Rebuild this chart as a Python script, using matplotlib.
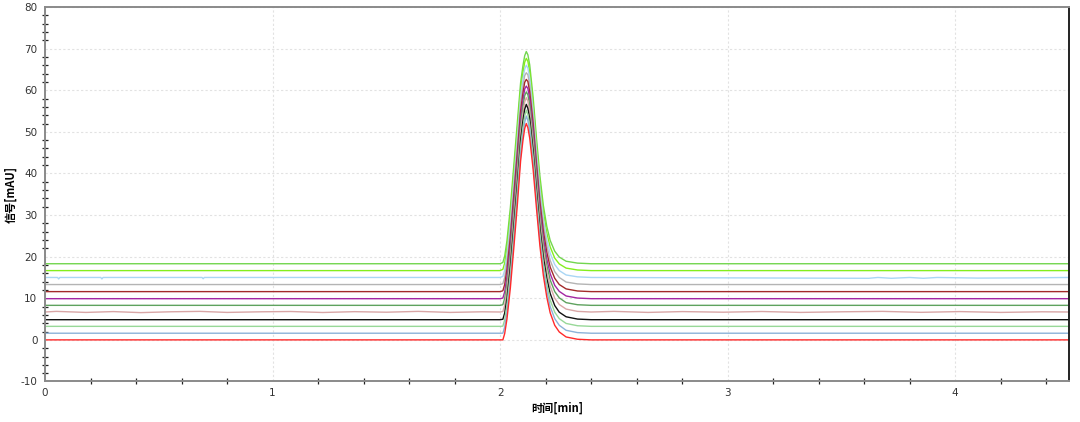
import matplotlib
matplotlib.use("Agg")
import matplotlib.pyplot as plt
from matplotlib.ticker import MultipleLocator, FixedLocator, FixedFormatter

plt.rcParams['font.family'] = ['DejaVu Sans']

# ---------------- data ----------------
t_start, t_end = 0.0, 4.5
time_peak = [2.000, 2.012, 2.020, 2.030, 2.045, 2.060, 2.075, 2.090, 2.100, 2.108,
             2.115, 2.122, 2.130, 2.145, 2.160, 2.175, 2.190, 2.205, 2.220, 2.240,
             2.260, 2.290, 2.340, 2.400]

baselines = [0.0, 1.6, 3.25, 4.85, 6.7, 8.3, 9.9, 11.6, 13.3, 15.0, 16.65, 18.3]
colors = ['#ff2a2a', '#8cb2d8', '#98d898', '#111111', '#d9a6a6', '#5fa25f',
          '#a326a3', '#a32a2a', '#b4b4b4', '#a9d6f5', '#84ee1c', '#72d64e']

# peak heights above each trace's own baseline, at time_peak
peak_red      = [0, 0.0, 1.5, 5.0, 12.5, 22.0, 32.0, 43.0, 47.8, 50.8, 52.0, 51.0, 48.5, 41.0, 31.5, 22.5, 15.5, 10.3, 6.5, 3.5, 1.9, 0.7, 0.15, 0]
peak_blue     = [0, 0.0, 1.5, 5.0, 12.6, 22.1, 32.1, 43.0, 47.8, 50.7, 52.2, 51.1, 48.6, 40.9, 31.4, 22.4, 15.4, 10.2, 6.4, 3.5, 1.9, 0.7, 0.15, 0]
peak_ltgreen  = [0, 0.05, 1.55, 5.1, 12.7, 22.3, 32.3, 43.1, 47.7, 50.6, 51.95, 50.9, 48.4, 40.8, 31.2, 22.2, 15.2, 10.1, 6.3, 3.4, 1.85, 0.7, 0.15, 0]
peak_black    = [0, 0.1, 1.6, 5.1, 12.8, 22.4, 32.4, 43.1, 47.7, 50.6, 51.75, 50.8, 48.3, 40.7, 31.1, 22.1, 15.1, 10.0, 6.3, 3.4, 1.8, 0.7, 0.15, 0]
peak_pink     = [0, 0.1, 1.6, 5.2, 12.9, 22.5, 32.5, 43.2, 47.7, 50.5, 51.5, 50.7, 48.2, 40.6, 31.0, 22.0, 15.0, 9.8, 6.2, 3.3, 1.8, 0.7, 0.15, 0]
peak_green    = [0, 0.15, 1.65, 5.2, 12.9, 22.7, 32.7, 43.2, 47.7, 50.4, 51.3, 50.6, 48.2, 40.5, 30.8, 21.8, 14.8, 9.7, 6.1, 3.3, 1.8, 0.65, 0.15, 0]
peak_purple   = [0, 0.15, 1.65, 5.3, 13.0, 22.8, 32.8, 43.3, 47.6, 50.4, 51.1, 50.5, 48.1, 40.5, 30.7, 21.7, 14.7, 9.6, 6.0, 3.2, 1.75, 0.65, 0.15, 0]
peak_darkred  = [0, 0.2, 1.7, 5.3, 13.1, 23.0, 33.0, 43.3, 47.6, 50.3, 51.0, 50.5, 48.0, 40.4, 30.5, 21.5, 14.5, 9.5, 5.9, 3.2, 1.7, 0.65, 0.15, 0]
peak_gray     = [0, 0.2, 1.7, 5.4, 13.2, 23.1, 33.1, 43.4, 47.6, 50.2, 50.9, 50.4, 48.0, 40.3, 30.4, 21.4, 14.4, 9.4, 5.8, 3.1, 1.7, 0.6, 0.15, 0]
peak_ltblue   = [0, 0.25, 1.75, 5.4, 13.3, 23.2, 33.2, 43.4, 47.6, 50.1, 51.0, 50.3, 47.9, 40.2, 30.3, 21.3, 14.3, 9.2, 5.8, 3.1, 1.65, 0.6, 0.15, 0]
peak_lime     = [0, 0.3, 1.8, 5.5, 13.4, 23.4, 33.4, 43.5, 47.5, 50.1, 51.0, 50.3, 47.8, 40.1, 30.1, 21.1, 14.1, 9.1, 5.7, 3.0, 1.6, 0.6, 0.15, 0]
peak_topgreen = [0, 0.3, 1.8, 5.5, 13.5, 23.5, 33.5, 43.5, 47.5, 50.0, 51.0, 50.2, 47.8, 40.0, 30.0, 21.0, 14.0, 9.0, 5.6, 3.0, 1.6, 0.6, 0.15, 0]

peaks = [peak_red, peak_blue, peak_ltgreen, peak_black, peak_pink, peak_green,
         peak_purple, peak_darkred, peak_gray, peak_ltblue, peak_lime, peak_topgreen]

# small baseline wobble of the pink trace and dips of the light-blue trace
pink_wobble_t = [0.05, 0.18, 0.30, 0.42, 0.55, 0.68, 0.80, 0.95, 1.08, 1.22, 1.36,
                 1.50, 1.64, 1.78, 1.92, 2.50, 2.65, 2.80, 2.98, 3.15, 3.32, 3.50,
                 3.68, 3.85, 4.02, 4.20, 4.38]
pink_wobble_v = [0.15, -0.1, 0.1, -0.15, 0.05, 0.15, -0.1, 0.05, 0.12, -0.12, 0.08,
                 -0.05, 0.15, -0.1, 0.05, 0.15, -0.1, 0.1, -0.05, 0.12, -0.1, 0.05,
                 0.15, -0.08, 0.1, -0.1, 0.05]
ltblue_wobble_t = [0.055, 0.06, 0.065, 0.245, 0.25, 0.255, 0.69, 0.695, 0.70,
                   3.62, 3.66, 3.72, 3.80, 3.86, 3.92, 4.10, 4.30]
ltblue_wobble_v = [0.0, -0.35, 0.0, 0.0, -0.35, 0.0, 0.0, -0.3, 0.0,
                   -0.2, 0.0, -0.2, 0.0, -0.2, 0.0, -0.15, -0.1]

x_major = [0, 1, 2, 3, 4]
x_labels = ['0', '1', '2', '3', '4']
y_major = [-10, 0, 10, 20, 30, 40, 50, 60, 70, 80]
y_labels = ['-10', '0', '10', '20', '30', '40', '50', '60', '70', '80']
xlabel = '时间[min]'
ylabel = '信号[mAU]'

# ---------------- figure ----------------
fig = plt.figure(figsize=(10.8, 4.22), dpi=100)
ax = fig.add_axes([0.0417, 0.0960, 0.9481, 0.8874])

for i in range(len(peaks) - 1, -1, -1):
    b = baselines[i]
    pts = [(t_start, 0.0), (t_end, 0.0)]
    pts += list(zip(time_peak, peaks[i]))
    if i == 4:
        pts += list(zip(pink_wobble_t, pink_wobble_v))
    if i == 9:
        pts += list(zip(ltblue_wobble_t, ltblue_wobble_v))
    pts.sort(key=lambda p: p[0])
    ts = [p[0] for p in pts]
    vs = [b + p[1] for p in pts]
    ax.plot(ts, vs, color=colors[i], lw=1.0, solid_joinstyle='round')

ax.set_xlim(0, 4.5)
ax.set_ylim(-10, 80)

ax.xaxis.set_major_locator(FixedLocator(x_major))
ax.xaxis.set_major_formatter(FixedFormatter(x_labels))
ax.xaxis.set_minor_locator(MultipleLocator(0.2))
ax.yaxis.set_major_locator(FixedLocator(y_major))
ax.yaxis.set_major_formatter(FixedFormatter(y_labels))
ax.yaxis.set_minor_locator(MultipleLocator(2))

ax.tick_params(which='major', length=0, labelsize=7.5, labelcolor='#333333')
ax.tick_params(axis='y', which='major', pad=5.5)
ax.tick_params(axis='x', which='major', pad=4.5)
ax.tick_params(which='minor', direction='inout', length=4, width=0.9, color='#222222')

ax.grid(True, which='major', color='#e2e2e2', lw=0.8, linestyle=(0, (2, 2)))
ax.set_axisbelow(True)

for s in ['left', 'bottom', 'top']:
    ax.spines[s].set_color('#8a8a8a')
    ax.spines[s].set_linewidth(1.4)
ax.spines['right'].set_color('#222222')
ax.spines['right'].set_linewidth(1.4)

cjk = ['Noto Sans CJK SC', 'DejaVu Sans']
ax.set_xlabel(xlabel, family=cjk, fontweight='bold', fontsize=8)
ax.set_ylabel(ylabel, family=cjk, fontweight='bold', fontsize=8)
ax.xaxis.set_label_coords(0.5, -0.055)
ax.yaxis.set_label_coords(-0.0273, 0.5)

fig.savefig('out.png', dpi=100)
